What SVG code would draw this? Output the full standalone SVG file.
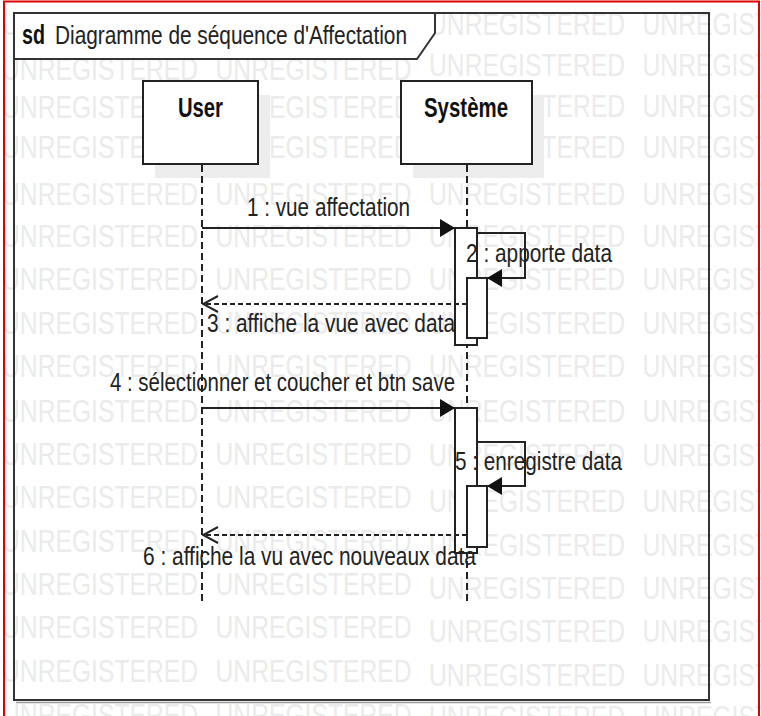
<svg xmlns="http://www.w3.org/2000/svg" width="761" height="716" viewBox="0 0 761 716">
<style>
.wm{font-family:"Liberation Sans",Arial,sans-serif;font-size:32px;fill:#ebebeb}
.lbl{font-family:"Liberation Sans",Arial,sans-serif;font-size:25px;fill:#222}
.bold{font-family:"Liberation Sans",Arial,sans-serif;font-size:27px;font-weight:bold;fill:#111}
.box{fill:#fff;stroke:#222;stroke-width:2}
.shadow{fill:#ededed;stroke:none}
.life{stroke:#222;stroke-width:2;stroke-dasharray:7 4;fill:none}
.act{fill:#fff;stroke:#222;stroke-width:2}
.msg{stroke:#222;stroke-width:2;fill:none}
.ret{stroke:#222;stroke-width:2;fill:none;stroke-dasharray:5 3}
</style>
<defs>
<marker id="filled" viewBox="0 0 15 18" refX="15" refY="9" markerWidth="15" markerHeight="18" markerUnits="userSpaceOnUse" orient="auto">
<path d="M0,0 L15,9 L0,18 Z" fill="#111" stroke="none"/>
</marker>
<marker id="open" viewBox="0 0 17 18" refX="16" refY="9" markerWidth="17" markerHeight="18" markerUnits="userSpaceOnUse" orient="auto">
<path d="M1,1 L16,9 L1,17" fill="none" stroke="#222" stroke-width="2"/>
</marker>
</defs>
<rect width="761" height="716" fill="#fff"/>
<g id="watermark">
<text class="wm" x="2" y="35" textLength="196" lengthAdjust="spacingAndGlyphs">UNREGISTERED</text><text class="wm" x="215.5" y="35" textLength="196" lengthAdjust="spacingAndGlyphs">UNREGISTERED</text><text class="wm" x="429" y="35" textLength="196" lengthAdjust="spacingAndGlyphs">UNREGISTERED</text><text class="wm" x="642.5" y="35" textLength="196" lengthAdjust="spacingAndGlyphs">UNREGISTERED</text>
<text class="wm" x="2" y="80" textLength="196" lengthAdjust="spacingAndGlyphs">UNREGISTERED</text><text class="wm" x="215.5" y="80" textLength="196" lengthAdjust="spacingAndGlyphs">UNREGISTERED</text><text class="wm" x="429" y="76" textLength="196" lengthAdjust="spacingAndGlyphs">UNREGISTERED</text><text class="wm" x="642.5" y="76" textLength="196" lengthAdjust="spacingAndGlyphs">UNREGISTERED</text>
<text class="wm" x="2" y="118" textLength="196" lengthAdjust="spacingAndGlyphs">UNREGISTERED</text><text class="wm" x="215.5" y="118" textLength="196" lengthAdjust="spacingAndGlyphs">UNREGISTERED</text><text class="wm" x="429" y="117" textLength="196" lengthAdjust="spacingAndGlyphs">UNREGISTERED</text><text class="wm" x="642.5" y="117" textLength="196" lengthAdjust="spacingAndGlyphs">UNREGISTERED</text>
<text class="wm" x="2" y="158" textLength="196" lengthAdjust="spacingAndGlyphs">UNREGISTERED</text><text class="wm" x="215.5" y="158" textLength="196" lengthAdjust="spacingAndGlyphs">UNREGISTERED</text><text class="wm" x="429" y="158" textLength="196" lengthAdjust="spacingAndGlyphs">UNREGISTERED</text><text class="wm" x="642.5" y="158" textLength="196" lengthAdjust="spacingAndGlyphs">UNREGISTERED</text>
<text class="wm" x="2" y="205" textLength="196" lengthAdjust="spacingAndGlyphs">UNREGISTERED</text><text class="wm" x="215.5" y="205" textLength="196" lengthAdjust="spacingAndGlyphs">UNREGISTERED</text><text class="wm" x="429" y="205" textLength="196" lengthAdjust="spacingAndGlyphs">UNREGISTERED</text><text class="wm" x="642.5" y="205" textLength="196" lengthAdjust="spacingAndGlyphs">UNREGISTERED</text>
<text class="wm" x="2" y="247" textLength="196" lengthAdjust="spacingAndGlyphs">UNREGISTERED</text><text class="wm" x="215.5" y="247" textLength="196" lengthAdjust="spacingAndGlyphs">UNREGISTERED</text><text class="wm" x="429" y="247" textLength="196" lengthAdjust="spacingAndGlyphs">UNREGISTERED</text><text class="wm" x="642.5" y="247" textLength="196" lengthAdjust="spacingAndGlyphs">UNREGISTERED</text>
<text class="wm" x="2" y="290" textLength="196" lengthAdjust="spacingAndGlyphs">UNREGISTERED</text><text class="wm" x="215.5" y="290" textLength="196" lengthAdjust="spacingAndGlyphs">UNREGISTERED</text><text class="wm" x="429" y="290" textLength="196" lengthAdjust="spacingAndGlyphs">UNREGISTERED</text><text class="wm" x="642.5" y="290" textLength="196" lengthAdjust="spacingAndGlyphs">UNREGISTERED</text>
<text class="wm" x="2" y="334" textLength="196" lengthAdjust="spacingAndGlyphs">UNREGISTERED</text><text class="wm" x="215.5" y="334" textLength="196" lengthAdjust="spacingAndGlyphs">UNREGISTERED</text><text class="wm" x="429" y="334" textLength="196" lengthAdjust="spacingAndGlyphs">UNREGISTERED</text><text class="wm" x="642.5" y="334" textLength="196" lengthAdjust="spacingAndGlyphs">UNREGISTERED</text>
<text class="wm" x="2" y="377" textLength="196" lengthAdjust="spacingAndGlyphs">UNREGISTERED</text><text class="wm" x="215.5" y="377" textLength="196" lengthAdjust="spacingAndGlyphs">UNREGISTERED</text><text class="wm" x="429" y="377" textLength="196" lengthAdjust="spacingAndGlyphs">UNREGISTERED</text><text class="wm" x="642.5" y="377" textLength="196" lengthAdjust="spacingAndGlyphs">UNREGISTERED</text>
<text class="wm" x="2" y="422" textLength="196" lengthAdjust="spacingAndGlyphs">UNREGISTERED</text><text class="wm" x="215.5" y="422" textLength="196" lengthAdjust="spacingAndGlyphs">UNREGISTERED</text><text class="wm" x="429" y="422" textLength="196" lengthAdjust="spacingAndGlyphs">UNREGISTERED</text><text class="wm" x="642.5" y="422" textLength="196" lengthAdjust="spacingAndGlyphs">UNREGISTERED</text>
<text class="wm" x="2" y="465" textLength="196" lengthAdjust="spacingAndGlyphs">UNREGISTERED</text><text class="wm" x="215.5" y="465" textLength="196" lengthAdjust="spacingAndGlyphs">UNREGISTERED</text><text class="wm" x="429" y="466" textLength="196" lengthAdjust="spacingAndGlyphs">UNREGISTERED</text><text class="wm" x="642.5" y="466" textLength="196" lengthAdjust="spacingAndGlyphs">UNREGISTERED</text>
<text class="wm" x="2" y="508" textLength="196" lengthAdjust="spacingAndGlyphs">UNREGISTERED</text><text class="wm" x="215.5" y="508" textLength="196" lengthAdjust="spacingAndGlyphs">UNREGISTERED</text><text class="wm" x="429" y="512" textLength="196" lengthAdjust="spacingAndGlyphs">UNREGISTERED</text><text class="wm" x="642.5" y="512" textLength="196" lengthAdjust="spacingAndGlyphs">UNREGISTERED</text>
<text class="wm" x="2" y="552" textLength="196" lengthAdjust="spacingAndGlyphs">UNREGISTERED</text><text class="wm" x="215.5" y="552" textLength="196" lengthAdjust="spacingAndGlyphs">UNREGISTERED</text><text class="wm" x="429" y="556" textLength="196" lengthAdjust="spacingAndGlyphs">UNREGISTERED</text><text class="wm" x="642.5" y="556" textLength="196" lengthAdjust="spacingAndGlyphs">UNREGISTERED</text>
<text class="wm" x="2" y="595" textLength="196" lengthAdjust="spacingAndGlyphs">UNREGISTERED</text><text class="wm" x="215.5" y="595" textLength="196" lengthAdjust="spacingAndGlyphs">UNREGISTERED</text><text class="wm" x="429" y="599" textLength="196" lengthAdjust="spacingAndGlyphs">UNREGISTERED</text><text class="wm" x="642.5" y="599" textLength="196" lengthAdjust="spacingAndGlyphs">UNREGISTERED</text>
<text class="wm" x="2" y="638" textLength="196" lengthAdjust="spacingAndGlyphs">UNREGISTERED</text><text class="wm" x="215.5" y="638" textLength="196" lengthAdjust="spacingAndGlyphs">UNREGISTERED</text><text class="wm" x="429" y="642" textLength="196" lengthAdjust="spacingAndGlyphs">UNREGISTERED</text><text class="wm" x="642.5" y="642" textLength="196" lengthAdjust="spacingAndGlyphs">UNREGISTERED</text>
<text class="wm" x="2" y="682" textLength="196" lengthAdjust="spacingAndGlyphs">UNREGISTERED</text><text class="wm" x="215.5" y="682" textLength="196" lengthAdjust="spacingAndGlyphs">UNREGISTERED</text><text class="wm" x="429" y="686" textLength="196" lengthAdjust="spacingAndGlyphs">UNREGISTERED</text><text class="wm" x="642.5" y="686" textLength="196" lengthAdjust="spacingAndGlyphs">UNREGISTERED</text>
<text class="wm" x="2" y="726" textLength="196" lengthAdjust="spacingAndGlyphs">UNREGISTERED</text><text class="wm" x="215.5" y="726" textLength="196" lengthAdjust="spacingAndGlyphs">UNREGISTERED</text><text class="wm" x="429" y="728" textLength="196" lengthAdjust="spacingAndGlyphs">UNREGISTERED</text><text class="wm" x="642.5" y="728" textLength="196" lengthAdjust="spacingAndGlyphs">UNREGISTERED</text>
</g>
<g id="frame">
<line x1="16" y1="702.5" x2="711" y2="702.5" stroke="#9a9a9a" stroke-width="1.5"/>
<rect x="14" y="13" width="695" height="687" fill="none" stroke="#333" stroke-width="2"/>
<polygon points="14,13 435,13 435,33 417,59 14,59" fill="#fff" stroke="#333" stroke-width="2"/>
<text class="bold" x="22" y="44" font-size="26" textLength="23" lengthAdjust="spacingAndGlyphs">sd</text>
<text class="lbl" x="55" y="44" font-size="26" textLength="352" lengthAdjust="spacingAndGlyphs">Diagramme de séquence d'Affectation</text>
</g>
<g id="node-user">
<rect class="shadow" x="155" y="95" width="115" height="83"/>
<rect class="box" x="143" y="81" width="115" height="83"/>
<text class="bold" x="178" y="117" textLength="45" lengthAdjust="spacingAndGlyphs">User</text>
<line class="life" x1="202" y1="165" x2="202" y2="602"/>
</g>
<g id="node-systeme">
<rect class="shadow" x="413" y="95" width="131" height="83"/>
<rect class="box" x="401" y="81" width="131" height="83"/>
<text class="bold" x="424" y="117" textLength="84" lengthAdjust="spacingAndGlyphs">Système</text>
<line class="life" x1="467" y1="165" x2="467" y2="602"/>
<rect class="act" x="455" y="228" width="22" height="117"/>
<rect class="act" x="467" y="278" width="20" height="60"/>
<rect class="act" x="455" y="408" width="22" height="145"/>
<rect class="act" x="467" y="486" width="20" height="61"/>
</g>
<g id="connectors">
<line class="msg" x1="202" y1="228" x2="455" y2="228" marker-end="url(#filled)"/>
<polyline class="msg" points="477,233 525,233 525,278 487,278" marker-end="url(#filled)"/>
<line class="ret" x1="467" y1="304" x2="203" y2="304" marker-end="url(#open)"/>
<line class="msg" x1="202" y1="408" x2="455" y2="408" marker-end="url(#filled)"/>
<polyline class="msg" points="477,442 525,442 525,486 487,486" marker-end="url(#filled)"/>
<line class="ret" x1="467" y1="535" x2="203" y2="535" marker-end="url(#open)"/>
<text class="lbl" x="247" y="216" textLength="163" lengthAdjust="spacingAndGlyphs">1 : vue affectation</text>
<text class="lbl" x="466" y="262" textLength="146" lengthAdjust="spacingAndGlyphs">2 : apporte data</text>
<text class="lbl" x="207" y="332" textLength="248" lengthAdjust="spacingAndGlyphs">3 : affiche la vue avec data</text>
<text class="lbl" x="110" y="391" textLength="345" lengthAdjust="spacingAndGlyphs">4 : sélectionner et coucher et btn save</text>
<text class="lbl" x="455" y="470" textLength="167" lengthAdjust="spacingAndGlyphs">5 : enregistre data</text>
<text class="lbl" x="143" y="565" textLength="333" lengthAdjust="spacingAndGlyphs">6 : affiche la vu avec nouveaux data</text>
</g>
<rect x="4" y="1.5" width="755" height="722" fill="none" stroke="#e00000" stroke-width="2"/>
</svg>
